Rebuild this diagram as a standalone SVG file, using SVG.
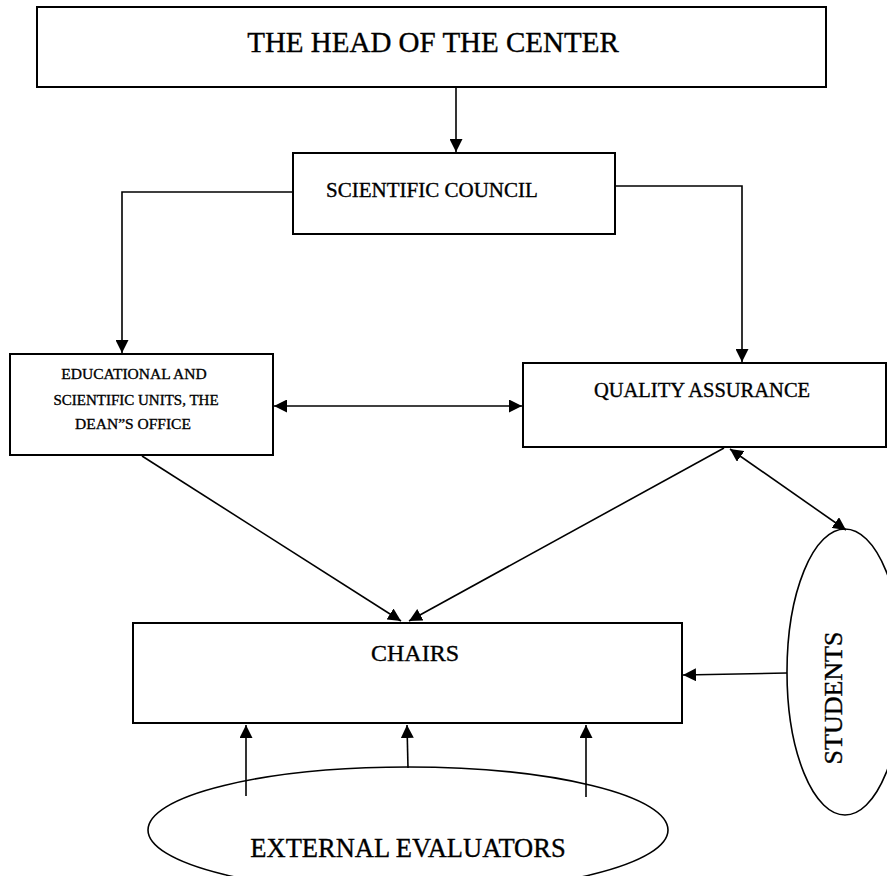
<svg xmlns="http://www.w3.org/2000/svg" width="887" height="876" viewBox="0 0 887 876">
<style>
  .box { fill: #fff; stroke: #000; stroke-width: 2; }
  .ell { fill: #fff; stroke: #000; stroke-width: 1.6; }
  .t { font-family: "Liberation Serif", "Times New Roman", serif; fill: #000; stroke: #000; stroke-width: 0.35; text-anchor: middle; }
  .c { fill: none; stroke: #000; stroke-width: 1.6; }
</style>
<defs>
  <marker id="ah" viewBox="0 0 12 12" refX="12" refY="6" markerWidth="13" markerHeight="13" markerUnits="userSpaceOnUse" orient="auto-start-reverse">
    <path d="M0,0 L12,6 L0,12 z" fill="#000"/>
  </marker>
</defs>
<rect width="887" height="876" fill="#fff"/>

<g id="head">
  <rect class="box" x="37" y="7" width="789" height="80"/>
  <text class="t" x="433" y="52" font-size="29">THE HEAD OF THE CENTER</text>
</g>
<g id="council">
  <rect class="box" x="293" y="153" width="322" height="81"/>
  <text class="t" x="432" y="197" font-size="21">SCIENTIFIC COUNCIL</text>
</g>
<g id="units">
  <rect class="box" x="10" y="354" width="263" height="101"/>
  <text class="t" x="134" y="379" font-size="15.5">EDUCATIONAL AND</text>
  <text class="t" x="136" y="405" font-size="15">SCIENTIFIC UNITS, THE</text>
  <text class="t" x="133" y="429" font-size="15.5">DEAN”S OFFICE</text>
</g>
<g id="quality">
  <rect class="box" x="523" y="363" width="363" height="84"/>
  <text class="t" x="702" y="397" font-size="20.5">QUALITY ASSURANCE</text>
</g>
<g id="chairs">
  <rect class="box" x="133" y="623" width="549" height="100"/>
  <text class="t" x="415" y="661" font-size="24">CHAIRS</text>
</g>
<g id="students">
  <ellipse class="ell" cx="845" cy="672" rx="58" ry="143"/>
  <text class="t" x="0" y="0" font-size="26" transform="translate(842 698) rotate(-90)">STUDENTS</text>
</g>
<g id="evaluators">
  <ellipse class="ell" cx="408" cy="830" rx="260" ry="63"/>
  <text class="t" x="408" y="857" font-size="26.5">EXTERNAL EVALUATORS</text>
</g>

<g id="connectors">
  <line class="c" x1="456" y1="87" x2="456" y2="152" marker-end="url(#ah)"/>
  <polyline class="c" points="293,192 122,192 122,353" marker-end="url(#ah)"/>
  <polyline class="c" points="615,186 742,186 742,362" marker-end="url(#ah)"/>
  <line class="c" x1="274" y1="406" x2="522" y2="406" marker-start="url(#ah)" marker-end="url(#ah)"/>
  <line class="c" x1="142" y1="456" x2="401" y2="621" marker-end="url(#ah)"/>
  <line class="c" x1="724" y1="448" x2="409" y2="621" marker-end="url(#ah)"/>
  <line class="c" x1="730" y1="449" x2="846" y2="530" marker-start="url(#ah)" marker-end="url(#ah)"/>
  <line class="c" x1="787" y1="673" x2="683" y2="675" marker-end="url(#ah)"/>
  <line class="c" x1="246" y1="796" x2="246" y2="725" marker-end="url(#ah)"/>
  <line class="c" x1="408" y1="768" x2="407" y2="725" marker-end="url(#ah)"/>
  <line class="c" x1="586" y1="797" x2="586" y2="725" marker-end="url(#ah)"/>
</g>
</svg>
